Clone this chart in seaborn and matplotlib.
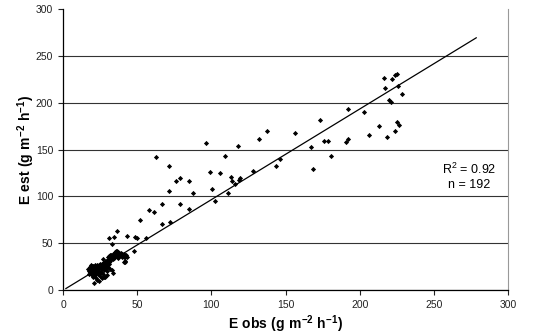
import numpy as np
import pandas as pd
import matplotlib
matplotlib.use("Agg")
import matplotlib.pyplot as plt
import seaborn as sns

upper_obs = [216.7, 217.4, 221.8, 223.9, 225.4, 226.1, 228.6, 220.0, 221.4, 202.8,
             192.2, 225.2, 226.8, 213.3, 224.1, 218.7, 206.1, 191.8, 190.7, 173.4,
             175.8, 178.7, 180.5, 167.1, 168.6, 156.3, 146.4, 143.9, 137.2, 132.0,
             127.8, 117.7, 109.4, 96.1, 62.6, 71.4, 99.0, 105.7, 113.4, 113.8,
             119.0, 118.5, 115.9, 111.4, 100.4, 102.6, 79.0, 76.1, 85.1, 87.3,
             71.2, 79.0, 66.5, 84.7, 58.2, 61.3, 71.9, 66.7, 52.1, 43.3,
             48.5, 50.1, 55.9, 47.6, 36.6, 34.4, 31.2, 33.2]
upper_est = [226.7, 216.0, 225.3, 229.5, 230.2, 218.1, 209.6, 202.5, 200.7, 189.7,
             193.6, 179.7, 175.8, 175.4, 170.1, 163.7, 165.5, 160.8, 157.6, 181.5,
             158.7, 158.7, 142.7, 152.3, 129.2, 167.6, 140.2, 132.7, 169.4, 161.6,
             127.4, 154.1, 143.1, 157.0, 142.0, 132.4, 126.0, 124.6, 120.3, 116.4,
             119.6, 117.4, 112.8, 103.9, 107.5, 94.7, 119.2, 116.7, 116.0, 103.9,
             106.0, 92.2, 92.2, 86.1, 85.4, 82.9, 72.6, 70.5, 74.7, 58.0,
             56.6, 55.9, 55.5, 41.6, 62.6, 56.9, 55.9, 48.7]

cluster_obs = [17.0, 17.5, 18.0, 18.2, 18.5, 18.8, 19.0, 19.2, 19.5, 19.8,
               20.0, 20.2, 20.5, 20.8, 21.0, 21.2, 21.5, 21.8, 22.0, 22.3,
               17.8, 18.6, 19.4, 20.6, 21.4, 19.1, 20.3, 18.1, 22.6, 21.7,
               22.5, 23.0, 23.5, 24.0, 24.5, 25.0, 25.5, 26.0, 26.5, 27.0,
               27.5, 28.0, 28.5, 29.0, 29.5, 30.0, 30.5, 31.0, 31.5, 32.0,
               24.2, 26.2, 27.8, 29.2, 30.8, 25.8, 28.8, 23.8, 31.2, 27.2,
               30.0, 30.8, 31.5, 32.0, 32.5, 33.0, 33.5, 34.0, 34.5, 35.0,
               35.5, 36.0, 36.5, 37.0, 37.5, 38.0, 38.5, 39.0, 39.5, 40.0,
               40.5, 41.0, 41.5, 42.0, 42.5, 31.2, 32.8, 34.2, 35.8, 36.2,
               37.8, 39.2, 40.8, 33.8, 36.8, 38.8, 41.2, 35.2, 37.2, 43.2,
               21.0, 22.0, 23.2, 24.3, 25.2, 26.0, 27.6, 28.5, 29.5, 30.5,
               33.9, 33.0, 41.0, 42.0, 20.5, 23.5, 26.8, 29.8, 32.0, 24.8,
               41.5, 35.9, 37.0, 19.5]
cluster_est = [22.0, 20.5, 23.5, 19.0, 24.5, 21.0, 18.0, 25.5, 22.5, 20.0,
               26.0, 17.5, 23.0, 19.5, 24.0, 21.5, 18.5, 25.0, 20.5, 22.5,
               17.0, 26.5, 16.0, 15.0, 27.0, 23.8, 20.8, 24.8, 18.8, 16.5,
               25.0, 27.0, 22.0, 26.5, 24.0, 28.0, 23.0, 27.5, 25.0, 29.0,
               24.5, 30.0, 26.5, 31.0, 28.0, 32.5, 29.5, 33.0, 31.0, 34.5,
               20.5, 22.5, 21.0, 27.0, 30.0, 19.0, 23.5, 18.0, 27.5, 33.5,
               35.0, 36.5, 37.5, 35.5, 37.0, 36.0, 38.0, 36.5, 35.0, 37.5,
               39.0, 38.5, 41.0, 37.0, 40.0, 36.0, 38.5, 37.0, 35.5, 38.0,
               36.5, 37.5, 35.0, 36.0, 37.0, 33.5, 34.0, 34.5, 36.0, 42.0,
               39.5, 38.0, 35.0, 33.0, 34.5, 39.0, 38.5, 40.5, 35.5, 35.5,
               7.8, 12.5, 11.0, 9.6, 14.9, 13.0, 13.5, 14.2, 16.0, 25.0,
               18.5, 21.0, 29.5, 31.0, 14.0, 17.0, 17.5, 20.0, 22.5, 18.0,
               29.5, 42.0, 40.5, 21.0]

# regression line end points
line_obs = [1.8, 278.7]
line_est = [1.4, 269.4]

r2 = 0.92

df = pd.DataFrame({"obs": upper_obs + cluster_obs, "est": upper_est + cluster_est})
n = len(df)

sns.set_style("white")
plt.rcParams["font.family"] = ["Liberation Sans", "DejaVu Sans"]
plt.rcParams["mathtext.fontset"] = "custom"
plt.rcParams["mathtext.rm"] = "Liberation Sans"
plt.rcParams["mathtext.bf"] = "Liberation Sans:bold"

fig = plt.figure(figsize=(5.35, 3.36), dpi=100)
ax = fig.add_axes([0.1178, 0.137, 0.8317, 0.836])

sns.scatterplot(data=df, x="obs", y="est", ax=ax, marker="D", s=7,
                color="black", linewidth=0, zorder=3)
sns.lineplot(x=line_obs, y=line_est, ax=ax, color="black", lw=0.9, zorder=2)

ax.set_xlim(0, 300)
ax.set_ylim(0, 300)
ax.set_xticks(np.arange(0, 301, 50))
ax.set_yticks(np.arange(0, 301, 50))
ax.tick_params(axis="both", labelsize=7.5, colors="#222222", length=3.5,
               width=0.8, direction="out", left=True, bottom=True)

ax.yaxis.grid(True, color="#333333", lw=0.8)
ax.get_ygridlines()[-1].set_visible(False)
ax.set_axisbelow(True)

ax.spines["top"].set_visible(False)
ax.spines["right"].set_color("#999999")
ax.spines["right"].set_linewidth(0.8)
for s in ["left", "bottom"]:
    ax.spines[s].set_color("black")
    ax.spines[s].set_linewidth(0.9)

ax.set_xlabel(r"$\mathbf{E\ obs\ (g\ m^{-2}\ h^{-1})}$", fontsize=10,
              labelpad=3, color="black")
ax.set_ylabel(r"$\mathbf{E\ est\ (g\ m^{-2}\ h^{-1})}$", fontsize=10,
              labelpad=-1, color="black")

ax.text(274, 121, f"R$^2$ = {r2:.2f}\nn = {n}", ha="center", va="center",
        fontsize=9, linespacing=1.25, color="black")

fig.savefig("out.png", dpi=100)
